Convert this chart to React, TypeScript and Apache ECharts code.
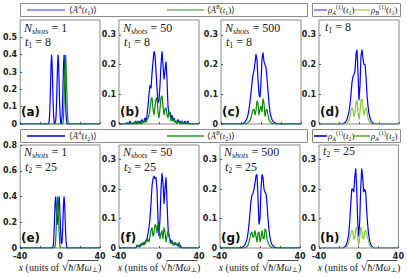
import React, { useEffect, useRef } from "react";
import * as echarts from "echarts";

const X_MIN = -40;
const X_MAX = 40;
const X_STEP = 20;
const xTickLabels = [-40, 0, 40];

// (a) single shot, t1 = 8  (x, value pairs)
const aBlue: number[][] = [
  [-11.5, 0], [-11, 0.015], [-10.5, 0.05], [-10, 0.13], [-9.5, 0.24], [-9, 0.35], [-8.5, 0.4], [-8, 0.35], [-7.5, 0.24], [-7, 0.13], [-6.5, 0.05], [-6, 0.015], [-5.5, 0],
  [-5, 0], [-4.5, 0.015], [-4, 0.05], [-3.5, 0.13], [-3, 0.24], [-2.5, 0.35], [-2, 0.4], [-1.5, 0.35], [-1, 0.24], [-0.5, 0.13], [0, 0.05], [0.5, 0.015], [1, 0],
  [1.5, 0.015], [2, 0.05], [2.5, 0.13], [3, 0.24], [3.5, 0.35], [4, 0.4], [4.5, 0.35], [5, 0.24], [5.5, 0.13], [6, 0.05], [6.5, 0.015], [7, 0],
];
const aGreen: number[][] = [
  [2.5, 0], [3, 0.015], [3.5, 0.05], [4, 0.13], [4.5, 0.24], [5, 0.35], [5.5, 0.4], [6, 0.35], [6.5, 0.24], [7, 0.13], [7.5, 0.05], [8, 0.015], [8.5, 0],
];

// (e) single shot, t2 = 25
const eBlue: number[][] = [
  [-7.5, 0], [-7, 0.015], [-6.5, 0.05], [-6, 0.13], [-5.5, 0.24], [-5, 0.35], [-4.5, 0.4], [-4, 0.35], [-3.5, 0.255], [-3, 0.18], [-2.5, 0.18], [-2, 0.255], [-1.5, 0.35], [-1, 0.4], [-0.5, 0.35], [0, 0.24], [0.5, 0.13], [1, 0.05], [1.5, 0.03],
  [2, 0.05], [2.5, 0.13], [3, 0.24], [3.5, 0.35], [4, 0.4], [4.5, 0.35], [5, 0.24], [5.5, 0.13], [6, 0.05], [6.5, 0.015], [7, 0],
];
const eGreen: number[][] = [
  [-5.5, 0], [-5, 0.015], [-4.5, 0.05], [-4, 0.13], [-3.5, 0.24], [-3, 0.35], [-2.5, 0.4], [-2, 0.35], [-1.5, 0.24], [-1, 0.13], [-0.5, 0.05], [0, 0.015], [0.5, 0],
];

// (b) 50 shots, t1 = 8 ; x from -35 step 1
const bStart = -35;
const bBlue = [
  0, 0, 0, 0.005, 0, 0, 0.01, 0, 0, 0, // -35..-26
  0.005, 0, 0.01, 0, 0.005, 0.01, 0, 0.01, 0.015, 0.005, // -25..-16
  0.01, 0.02, 0.01, 0.03, 0.06, 0.1, 0.13, 0.12, 0.17, 0.21, // -15..-6
  0.245, 0.23, 0.18, 0.12, 0.07, 0.08, 0.13, 0.2, 0.245, 0.2, // -5..4
  0.15, 0.18, 0.21, 0.15, 0.06, 0.03, 0.04, 0.02, 0.03, 0.01, // 5..14
  0.02, 0.01, 0.005, 0.01, 0.015, 0.005, 0.01, 0, 0.01, 0, // 15..24
  0.005, 0.01, 0, 0.005, 0.01, 0, 0, 0, 0, 0, 0, // 25..35
];
const bGreen = [
  0, 0, 0, 0, 0.005, 0, 0, 0.005, 0, 0.005, // -35..-26
  0, 0.01, 0, 0.005, 0.01, 0, 0.005, 0.01, 0, 0.01, // -25..-16
  0.005, 0.01, 0.005, 0.015, 0.02, 0.03, 0.05, 0.08, 0.09, 0.05, // -15..-6
  0.03, 0.06, 0.085, 0.09, 0.04, 0.02, 0.05, 0.09, 0.095, 0.06, // -5..4
  0.03, 0.05, 0.055, 0.03, 0.02, 0.045, 0.03, 0.01, 0.02, 0.01, // 5..14
  0.015, 0.005, 0.01, 0, 0.01, 0.005, 0, 0.01, 0, 0.005, // 15..24
  0, 0.005, 0, 0, 0.005, 0, 0, 0, 0, 0, 0, // 25..35
];

// (c) 500 shots, t1 = 8 ; x from -20 step 1
const cStart = -20;
const cBlue = [
  0, 0, 0.002, 0.004, 0.007, 0.012, 0.02, 0.03, 0.05, 0.075, // -20..-11
  0.105, 0.14, 0.165, 0.18, 0.205, 0.235, 0.215, 0.15, 0.1, 0.09, // -10..-1
  0.14, 0.22, 0.24, 0.21, 0.2, 0.19, 0.155, 0.11, 0.07, 0.04, // 0..9
  0.025, 0.015, 0.01, 0.006, 0.004, 0.002, 0.001, 0, 0, 0, 0, // 10..20
];
const cGreen = [
  0, 0, 0, 0, 0, 0.002, 0.003, 0.005, 0.008, 0.012, // -20..-11
  0.02, 0.035, 0.048, 0.05, 0.03, 0.045, 0.078, 0.07, 0.03, 0.05, // -10..-1
  0.06, 0.04, 0.085, 0.07, 0.025, 0.045, 0.05, 0.03, 0.015, 0.008, // 0..9
  0.004, 0.002, 0.001, 0, 0, 0, 0, 0, 0, 0, 0, // 10..20
];

// (d) rho^(1), t1 = 8 ; x from -20 step 1
const dStart = -20;
const dBlue = [
  0, 0, 0, 0.001, 0.002, 0.003, 0.005, 0.009, 0.016, 0.027, // -20..-11
  0.042, 0.065, 0.1, 0.14, 0.16, 0.165, 0.18, 0.235, 0.25, 0.17, // -10..-1
  0.08, 0.13, 0.23, 0.25, 0.22, 0.2, 0.2, 0.16, 0.1, 0.06, // 0..9
  0.035, 0.02, 0.011, 0.006, 0.003, 0.002, 0.001, 0, 0, 0, 0, // 10..20
];
const dGreen = [
  0, 0, 0, 0, 0, 0, 0, 0.001, 0.003, 0.006, // -20..-11
  0.012, 0.025, 0.045, 0.055, 0.045, 0.025, 0.04, 0.075, 0.08, 0.04, // -10..-1
  0.015, 0.04, 0.08, 0.085, 0.05, 0.03, 0.045, 0.055, 0.04, 0.02, // 0..9
  0.01, 0.005, 0.002, 0, 0, 0, 0, 0, 0, 0, 0, // 10..20
];

// (f) 50 shots, t2 = 25 ; x from -30 step 1
const fStart = -30;
const fBlue = [
  0, 0, 0, 0, 0, 0, 0, 0, 0.01, 0.005, // -30..-21
  0.01, 0.005, 0.01, 0.015, 0.01, 0.02, 0.015, 0.025, 0.03, 0.05, // -20..-11
  0.07, 0.1, 0.15, 0.21, 0.235, 0.245, 0.235, 0.24, 0.2, 0.1, // -10..-1
  0.04, 0.1, 0.2, 0.255, 0.22, 0.15, 0.2, 0.24, 0.16, 0.07, // 0..9
  0.04, 0.03, 0.02, 0.025, 0.015, 0.01, 0.02, 0.01, 0.015, 0.005, // 10..19
  0.015, 0.01, 0.005, 0, 0, 0, 0, 0, 0, 0, 0, // 20..30
];
const fGreen = [
  0, 0, 0, 0, 0, 0, 0, 0, 0.005, 0.01, // -30..-21
  0.005, 0.01, 0.015, 0.01, 0.02, 0.01, 0.015, 0.025, 0.02, 0.03, // -20..-11
  0.02, 0.04, 0.06, 0.07, 0.04, 0.05, 0.08, 0.075, 0.05, 0.085, // -10..-1
  0.07, 0.03, 0.05, 0.06, 0.03, 0.07, 0.055, 0.02, 0.04, 0.06, // 0..9
  0.045, 0.02, 0.015, 0.02, 0.01, 0.015, 0.02, 0.01, 0.015, 0.01, // 10..19
  0.02, 0.005, 0, 0, 0, 0, 0, 0, 0, 0, 0, // 20..30
];

// (g) 500 shots, t2 = 25 ; x from -20 step 1
const gStart = -20;
const gBlue = [
  0, 0.001, 0.002, 0.004, 0.007, 0.012, 0.02, 0.03, 0.05, 0.08, // -20..-11
  0.12, 0.16, 0.18, 0.185, 0.2, 0.22, 0.245, 0.25, 0.17, 0.08, // -10..-1
  0.1, 0.2, 0.25, 0.24, 0.2, 0.19, 0.185, 0.15, 0.1, 0.06, // 0..9
  0.035, 0.02, 0.012, 0.007, 0.004, 0.002, 0.001, 0, 0, 0, 0, // 10..20
];
const gGreen = [
  0, 0, 0, 0, 0, 0, 0.002, 0.005, 0.01, 0.02, // -20..-11
  0.035, 0.05, 0.055, 0.035, 0.04, 0.06, 0.04, 0.02, 0.05, 0.055, // -10..-1
  0.02, 0.035, 0.06, 0.035, 0.03, 0.065, 0.06, 0.03, 0.02, 0.012, // 0..9
  0.006, 0.003, 0.001, 0, 0, 0, 0, 0, 0, 0, 0, // 10..20
];

// (h) rho^(1), t2 = 25 ; x from -20 step 1
const hStart = -20;
const hBlue = [
  0, 0, 0, 0, 0.001, 0.002, 0.004, 0.008, 0.015, 0.03, // -20..-11
  0.05, 0.09, 0.15, 0.2, 0.2, 0.19, 0.24, 0.27, 0.2, 0.09, // -10..-1
  0.04, 0.09, 0.2, 0.27, 0.24, 0.19, 0.2, 0.19, 0.13, 0.08, // 0..9
  0.045, 0.025, 0.013, 0.007, 0.003, 0.001, 0, 0, 0, 0, 0, // 10..20
];
const hGreen = [
  0, 0, 0, 0, 0, 0, 0, 0.002, 0.005, 0.01, // -20..-11
  0.02, 0.035, 0.05, 0.06, 0.055, 0.03, 0.035, 0.065, 0.07, 0.035, // -10..-1
  0.01, 0.035, 0.07, 0.065, 0.035, 0.03, 0.055, 0.06, 0.05, 0.035, // 0..9
  0.02, 0.01, 0.005, 0.002, 0, 0, 0, 0, 0, 0, 0, // 10..20
];

const fromStart = (start: number, vals: number[]) => [
  [X_MIN, 0],
  ...vals.map((v, i) => [start + i, v]),
  [X_MAX, 0],
];
const padPairs = (pairs: number[][]) => [[X_MIN, 0], ...pairs, [X_MAX, 0]];

const BLUE = "#0000ff";
const GREEN = "#0d8a0d";
const YGREEN = "#8cc43c";
const SERIF = '"Liberation Serif", "DejaVu Serif", serif';
const SANS = '"DejaVu Sans", "Liberation Sans", sans-serif';

const richBase = (size: number) => ({
  n: { fontFamily: SERIF, fontSize: size, fill: "#1a1a1a", lineHeight: size + 3 },
  it: { fontFamily: SERIF, fontSize: size, fontStyle: "italic", fill: "#1a1a1a", lineHeight: size + 3 },
  sub: { fontFamily: SERIF, fontSize: Math.round(size * 0.68), fontStyle: "italic", fill: "#1a1a1a", verticalAlign: "bottom", lineHeight: Math.round(size * 0.68) + 1 },
  subn: { fontFamily: SERIF, fontSize: Math.round(size * 0.68), fill: "#1a1a1a", verticalAlign: "bottom", lineHeight: Math.round(size * 0.68) + 1 },
  sup: { fontFamily: SERIF, fontSize: Math.round(size * 0.68), fontStyle: "italic", fill: "#1a1a1a", verticalAlign: "top", lineHeight: Math.round(size * 0.68) + 1 },
  supn: { fontFamily: SERIF, fontSize: Math.round(size * 0.68), fill: "#1a1a1a", verticalAlign: "top", lineHeight: Math.round(size * 0.68) + 1 },
  rt: { fontFamily: SERIF, fontSize: size + 2, fill: "#1a1a1a", lineHeight: size + 3 },
});

type Panel = {
  left: number; top: number; height: number;
  yMax: number; yInt: number; hideMax: boolean; bottomRow: boolean;
  blue: number[][]; green: number[][]; greenColor: string;
};

const W = 80;
const panels: Panel[] = [
  { left: 20, top: 20, height: 104, yMax: 0.6, yInt: 0.1, hideMax: true, bottomRow: false, blue: padPairs(aBlue), green: padPairs(aGreen), greenColor: GREEN },
  { left: 119, top: 20, height: 104, yMax: 0.35, yInt: 0.1, hideMax: true, bottomRow: false, blue: fromStart(bStart, bBlue), green: fromStart(bStart, bGreen), greenColor: GREEN },
  { left: 221, top: 20, height: 104, yMax: 0.35, yInt: 0.1, hideMax: true, bottomRow: false, blue: fromStart(cStart, cBlue), green: fromStart(cStart, cGreen), greenColor: GREEN },
  { left: 319, top: 20, height: 104, yMax: 0.35, yInt: 0.1, hideMax: true, bottomRow: false, blue: fromStart(dStart, dBlue), green: fromStart(dStart, dGreen), greenColor: YGREEN },
  { left: 20, top: 145, height: 103, yMax: 0.8, yInt: 0.2, hideMax: false, bottomRow: true, blue: padPairs(eBlue), green: padPairs(eGreen), greenColor: GREEN },
  { left: 119, top: 145, height: 103, yMax: 0.35, yInt: 0.1, hideMax: true, bottomRow: true, blue: fromStart(fStart, fBlue), green: fromStart(fStart, fGreen), greenColor: GREEN },
  { left: 220, top: 145, height: 103, yMax: 0.35, yInt: 0.1, hideMax: true, bottomRow: true, blue: fromStart(gStart, gBlue), green: fromStart(gStart, gGreen), greenColor: GREEN },
  { left: 319, top: 145, height: 103, yMax: 0.35, yInt: 0.1, hideMax: true, bottomRow: true, blue: fromStart(hStart, hBlue), green: fromStart(hStart, hGreen), greenColor: YGREEN },
];

const panelLetters = ["(a)", "(b)", "(c)", "(d)", "(e)", "(f)", "(g)", "(h)"];

function measure(font: string, text: string): number {
  const c = document.createElement("canvas").getContext("2d");
  if (!c) return text.length * 5;
  c.font = font;
  return c.measureText(text).width;
}

function richText(x: number, y: number, text: string, size: number, align = "left"): any {
  return {
    type: "text",
    silent: true,
    z: 100,
    style: { x, y, text, rich: richBase(size), align, verticalAlign: "middle" },
  };
}

function legendBox(x: number, y: number, w: number, h: number): any {
  return {
    type: "rect",
    silent: true,
    z: 90,
    shape: { x: x + 0.5, y: y + 0.5, width: w, height: h },
    style: { fill: "#fff", stroke: "#8a8a8a", lineWidth: 1 },
  };
}
function legendLine(x1: number, x2: number, y: number, color: string): any {
  return {
    type: "line",
    silent: true,
    z: 95,
    shape: { x1, y1: y, x2, y2: y },
    style: { stroke: color, lineWidth: 1.6 },
  };
}

export default function App() {
  const ref = useRef<HTMLDivElement>(null);
  useEffect(() => {
    if (!ref.current) return;
    const chart = echarts.init(ref.current, undefined, { renderer: "svg" });

    const grids = panels.map((p) => ({
      left: p.left, top: p.top, width: W, height: p.height,
      show: true, borderColor: "#8a8a8a", borderWidth: 1, backgroundColor: "#fff",
    }));
    const xAxes = panels.map((p, i) => ({
      type: "value", gridIndex: i, min: X_MIN, max: X_MAX, interval: X_STEP,
      position: "bottom",
      axisLine: { show: false, onZero: false },
      axisTick: { show: true, inside: true, length: 2, lineStyle: { color: "#555", width: 1 } },
      splitLine: { show: false },
      axisLabel: {
        show: p.bottomRow, margin: 4, fontSize: 8, fontWeight: "bold", color: "#222", fontFamily: SANS,
        formatter: (v: number) => (xTickLabels.includes(v) ? String(v) : ""),
      },
    }));
    const yAxes = panels.map((p, i) => ({
      type: "value", gridIndex: i, min: 0, max: p.yMax, interval: p.yInt,
      position: "left",
      axisLine: { show: false, onZero: false },
      axisTick: { show: true, inside: true, length: 2, lineStyle: { color: "#555", width: 1 } },
      splitLine: { show: false },
      axisLabel: {
        margin: 3, fontSize: 8, fontWeight: "bold", color: "#222", fontFamily: SANS,
        showMaxLabel: !p.hideMax,
        formatter: (v: number) => {
          const r = Math.round(v * 100) / 100;
          if (p.hideMax && Math.abs(r - p.yMax) < 1e-9) return "";
          return String(r);
        },
      },
    }));
    const series: any[] = [];
    panels.forEach((p, i) => {
      series.push({
        type: "line", xAxisIndex: i, yAxisIndex: i, data: p.blue, showSymbol: false,
        lineStyle: { color: BLUE, width: 1.2 }, itemStyle: { color: BLUE }, z: 3,
      });
      series.push({
        type: "line", xAxisIndex: i, yAxisIndex: i, data: p.green, showSymbol: false,
        lineStyle: { color: p.greenColor, width: 1.2 }, itemStyle: { color: p.greenColor }, z: 4,
      });
    });

    const LS = 9;
    const graphics: any[] = [];
    // legends top row
    graphics.push(legendBox(20, 3, 287, 13));
    graphics.push(legendLine(27, 65, 10, "#7272f2"));
    graphics.push(richText(69, 10, "{n|⟨}{it|Ā}{sup|A}{n|(}{it|t}{subn|1}{n|)⟩}", LS));
    graphics.push(legendLine(167, 204, 10, "#72b472"));
    graphics.push(richText(207, 10, "{n|⟨}{it|Ā}{sup|B}{n|(}{it|t}{subn|1}{n|)⟩}", LS));
    graphics.push(legendBox(312, 3, 88, 13));
    graphics.push(legendLine(314, 327, 10, "#7a7aff"));
    graphics.push(richText(328, 10, "{it|ρ}{sub|A}{supn|(1)}{n|(}{it|t}{subn|1}{n|)}", LS));
    graphics.push(legendLine(354, 370, 10, "#b2d882"));
    graphics.push(richText(371, 10, "{it|ρ}{sub|B}{supn|(1)}{n|(}{it|t}{subn|1}{n|)}", LS));
    // legends bottom row
    graphics.push(legendBox(20, 129, 287, 13));
    graphics.push(legendLine(27, 65, 136, "#0000cc"));
    graphics.push(richText(69, 136, "{n|⟨}{it|Ā}{sup|A}{n|(}{it|t}{subn|2}{n|)⟩}", LS));
    graphics.push(legendLine(167, 204, 136, "#2e9a2e"));
    graphics.push(richText(207, 136, "{n|⟨}{it|Ā}{sup|B}{n|(}{it|t}{subn|2}{n|)⟩}", LS));
    graphics.push(legendBox(312, 129, 88, 13));
    graphics.push(legendLine(314, 327, 136, "#0000dd"));
    graphics.push(richText(328, 136, "{it|ρ}{sub|A}{supn|(1)}{n|(}{it|t}{subn|2}{n|)}", LS));
    graphics.push(legendLine(354, 370, 136, "#77b020"));
    graphics.push(richText(371, 136, "{it|ρ}{sub|A}{supn|(1)}{n|(}{it|t}{subn|2}{n|)}", LS));

    // panel annotations
    const shots = ["1", "50", "500"];
    [0, 1, 2].forEach((k) => {
      const lx = panels[k].left + 4;
      graphics.push(richText(lx, 28, `{it|N}{sub|shots}{n| = ${shots[k]}}`, 12));
      graphics.push(richText(lx + 1, 42, "{it|t}{subn|1}{n| = 8}", 12));
      const bx = panels[k + 4].left + 4;
      graphics.push(richText(bx, 152, `{it|N}{sub|shots}{n| = ${shots[k]}}`, 12));
      graphics.push(richText(bx + 1, 167, "{it|t}{subn|2}{n| = 25}", 12));
    });
    graphics.push(richText(panels[3].left + 6, 27, "{it|t}{subn|1}{n| = 8}", 12));
    graphics.push(richText(panels[7].left + 4, 151, "{it|t}{subn|2}{n| = 25}", 12));

    // panel letters
    panels.forEach((p, i) => {
      graphics.push({
        type: "text", silent: true, z: 100,
        style: {
          x: p.left + 1, y: p.bottomRow ? 237.5 : 112, text: panelLetters[i],
          fill: "#111", fontFamily: SANS, fontSize: 12, fontWeight: "bold",
          align: "left", verticalAlign: "middle",
        },
      });
    });

    // x axis titles with radical overbar
    const fs = 10;
    const fN = `${fs}px ${SERIF}`;
    const fI = `italic ${fs}px ${SERIF}`;
    const fR = `${fs + 2}px ${SERIF}`;
    const fS = `${Math.round(fs * 0.68)}px ${SERIF}`;
    const wx = measure(fI, "x");
    const wu = measure(fN, " (units of ");
    const wr = measure(fR, "√");
    const wh = measure(fI, "ħ");
    const ws = measure(fN, "/");
    const wm = measure(fI, "Mω");
    const wp = measure(fS, "⊥");
    const wc = measure(fN, ")");
    const total = wx + wu + wr + wh + ws + wm + wp + wc;
    panels.filter((p) => p.bottomRow).forEach((p) => {
      const cx = p.left + W / 2;
      const x0 = cx - total / 2;
      const ty = 267;
      graphics.push(richText(x0, ty, "{it|x}{n| (units of }{rt|√}{it|ħ}{n|/}{it|Mω}{subn|⊥}{n|)}", fs));
      const ox1 = x0 + wx + wu + wr - 0.5;
      const ox2 = ox1 + wh + ws + wm + wp + 1;
      graphics.push({
        type: "line", silent: true, z: 100,
        shape: { x1: ox1, y1: ty - 6.5, x2: ox2, y2: ty - 6.5 },
        style: { stroke: "#1a1a1a", lineWidth: 0.8 },
      });
    });

    chart.setOption({
      animation: false,
      backgroundColor: "#fff",
      grid: grids,
      xAxis: xAxes,
      yAxis: yAxes,
      series,
      graphic: graphics,
    });
    return () => chart.dispose();
  }, []);
  return (
    <div
      ref={ref}
      style={{ position: "fixed", left: 0, top: 0, width: 407, height: 277, background: "#fff" }}
    />
  );
}
